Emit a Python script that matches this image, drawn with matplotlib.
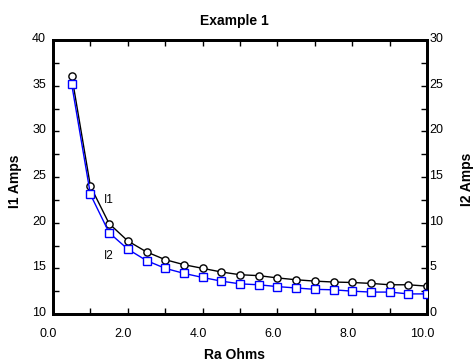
import matplotlib
matplotlib.use("Agg")
import matplotlib.pyplot as plt
from matplotlib.ticker import MultipleLocator, FormatStrFormatter
from matplotlib.transforms import ScaledTranslation

plt.rcParams['font.family'] = ['Liberation Sans', 'DejaVu Sans']

ra = [0.5, 1.0, 1.5, 2.0, 2.5, 3.0, 3.5, 4.0, 4.5, 5.0, 5.5, 6.0, 6.5, 7.0, 7.5, 8.0, 8.5, 9.0, 9.5, 10.0]
i1 = [36.1, 24.0, 19.9, 18.0, 16.8, 15.95, 15.4, 15.0, 14.6, 14.3, 14.2, 13.95, 13.75, 13.6, 13.5, 13.45, 13.35, 13.2, 13.2, 13.05]
i2 = [25.15, 13.1, 8.9, 7.1, 5.85, 5.0, 4.45, 4.0, 3.6, 3.3, 3.2, 3.0, 2.85, 2.7, 2.65, 2.5, 2.4, 2.4, 2.2, 2.2]

W, H = 475, 362
fig = plt.figure(figsize=(W/100, H/100), dpi=100)
ax = fig.add_axes([53/W, 1-314/H, (427-53)/W, (314-40)/H])
ax2 = ax.twinx()

ax.plot(ra, i1, color='black', lw=1.0, marker='o', ms=5.2, mfc='white', mec='black', mew=1.0, zorder=3)
ax2.plot(ra, i2, color='#0000ff', lw=1.0, marker='s', ms=5.8, mfc='white', mec='#0000ff', mew=1.0, zorder=3)

ax.set_xlim(0, 10)
ax.set_ylim(10, 40)
ax2.set_ylim(0, 30)

ax.xaxis.set_major_locator(MultipleLocator(2))
ax.xaxis.set_minor_locator(MultipleLocator(1))
ax.xaxis.set_major_formatter(FormatStrFormatter('%.1f'))
ax.yaxis.set_major_locator(MultipleLocator(5))
ax.yaxis.set_minor_locator(MultipleLocator(2.5))
ax2.yaxis.set_major_locator(MultipleLocator(5))
ax2.yaxis.set_minor_locator(MultipleLocator(2.5))

for a in (ax, ax2):
    for s in a.spines.values():
        s.set_linewidth(2.0)
    a.tick_params(which='both', direction='in', length=4, width=1, labelsize=9)
ax.tick_params(axis='y', which='both', left=True, right=False, pad=5)
ax.tick_params(axis='x', which='both', top=True, bottom=True, pad=10)
ax2.tick_params(axis='y', which='both', right=True, left=False, pad=1.5)

fig.canvas.draw()
up = ScaledTranslation(0, 2.5/100, fig.dpi_scale_trans)
leftshift = ScaledTranslation(-4.5/100, 0, fig.dpi_scale_trans)
for lab in ax.get_yticklabels() + ax2.get_yticklabels():
    lab.set_transform(lab.get_transform() + up)
for lab in ax.get_xticklabels():
    lab.set_transform(lab.get_transform() + leftshift)

fig.text(234/W, 1-21/H, 'Example 1', fontsize=10, fontweight='bold', ha='center', va='center')
fig.text(235/W, 1-355/H, 'Ra Ohms', fontsize=10, fontweight='bold', ha='center', va='center')
fig.text(15/W, 1-181/H, 'I1 Amps', fontsize=10, fontweight='bold', ha='center', va='center', rotation=90)
fig.text(467/W, 1-179/H, 'I2 Amps', fontsize=10, fontweight='bold', ha='center', va='center', rotation=90)

ax.text(1.37, 22.5, 'I1', fontsize=8.5, va='center', ha='left')
ax.text(1.37, 16.4, 'I2', fontsize=8.5, va='center', ha='left')

fig.savefig('out.png', dpi=100)
